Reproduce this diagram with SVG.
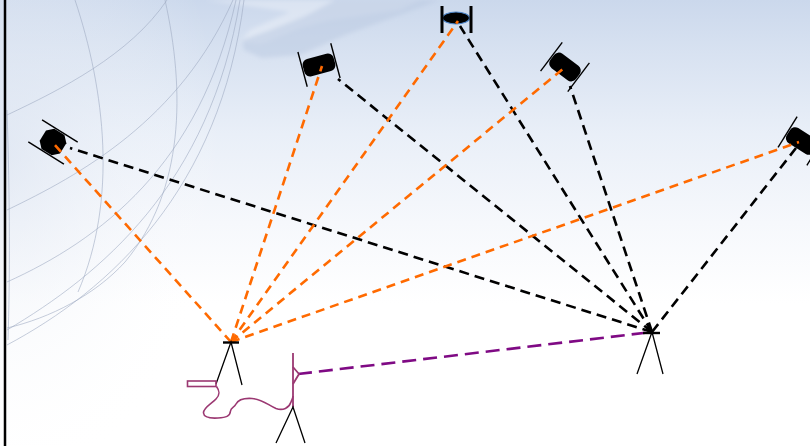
<svg xmlns="http://www.w3.org/2000/svg" width="810" height="446" viewBox="0 0 810 446">
  <defs>
    <linearGradient id="sky" x1="0" y1="0" x2="0" y2="1">
      <stop offset="0" stop-color="#cbd8ec"/>
      <stop offset="0.12" stop-color="#d8e2f1"/>
      <stop offset="0.3" stop-color="#e9eff8"/>
      <stop offset="0.5" stop-color="#f6f8fc"/>
      <stop offset="0.68" stop-color="#ffffff"/>
    </linearGradient>
    <radialGradient id="haze" cx="0" cy="0.35" r="0.75">
      <stop offset="0" stop-color="#dbe3f0" stop-opacity="0.6"/>
      <stop offset="1" stop-color="#ffffff" stop-opacity="0"/>
    </radialGradient>
    <filter id="soft" x="-20%" y="-20%" width="140%" height="140%">
      <feGaussianBlur stdDeviation="2"/>
    </filter>
    <!-- generic satellite: body with two solar-panel edges -->
    <g id="sat">
      <line x1="-17" y1="-18" x2="-17" y2="18" stroke="#000" stroke-width="1.4"/>
      <line x1="17" y1="-18" x2="17" y2="18" stroke="#000" stroke-width="1.4"/>
      <rect x="-16" y="-9" width="32" height="18" rx="6" ry="6" fill="#000"/>
    </g>
  </defs>
  <style>
    .globe { fill: none; stroke: #9fabc3; stroke-width: 0.8; opacity: 0.75; }
    .orange { stroke: #ff6a00; stroke-width: 2.6; stroke-dasharray: 9 6; fill: none; }
    .black { stroke: #000; stroke-width: 2.6; stroke-dasharray: 10 6; fill: none; }
    .purple { stroke: #7f0a84; stroke-width: 2.6; stroke-dasharray: 14 7; fill: none; }
    .tripod { stroke: #000; stroke-width: 1.3; fill: none; }
    .bar { stroke: #000; stroke-width: 2.4; }
    .cable { stroke: #9b3872; stroke-width: 1.6; fill: none; }
  </style>

  <!-- sky background -->
  <rect x="0" y="0" width="810" height="446" fill="url(#sky)"/>
  <rect x="0" y="0" width="300" height="446" fill="url(#haze)"/>

  <!-- faint wing-like cloud near the top -->
  <g filter="url(#soft)">
    <path d="M205,0 L420,0 L400,10 L330,20 L300,28 L262,44 L240,42 L250,30 L290,12 Z" fill="#ffffff" opacity="0.3"/>
    <path d="M242,40 L270,30 L305,16 L335,0 L440,0 L400,15 L345,35 L300,55 L262,58 L244,50 Z" fill="#bccbe2" opacity="0.55"/>
  </g>

  <!-- globe grid -->
  <g id="globe">
    <path class="globe" d="M7,115 C60,90 130,55 167,0"/>
    <path class="globe" d="M7,210 C80,175 180,120 233,0"/>
    <path class="globe" d="M7,282 C100,240 200,165 236,0"/>
    <path class="globe" d="M7,330 C100,275 210,185 240,0"/>
    <path class="globe" d="M7,345 C110,290 220,190 244,0"/>
    <path class="globe" d="M75,0 C105,90 118,200 78,292"/>
    <path class="globe" d="M165,0 C185,90 185,190 125,262 C95,295 50,318 7,328"/>
    <path class="globe" d="M7,110 C10,200 10,280 8,340"/>
  </g>

  <!-- left frame edge -->
  <line x1="5" y1="0" x2="5" y2="446" stroke="#000" stroke-width="2.5"/>

  <!-- satellites -->
  <g id="sat1" transform="translate(53,142) rotate(122)">
    <line x1="-13" y1="-21" x2="-13" y2="21" stroke="#000" stroke-width="1.4"/>
    <line x1="13" y1="-21" x2="13" y2="21" stroke="#000" stroke-width="1.4"/>
    <path d="M-6,-12 L6,-12 L12,-6 L12,6 L6,12 L-6,12 L-12,6 L-12,-6 Z" fill="#000"/>
  </g>
  <g id="sat2" transform="translate(319,65) rotate(-15)">
    <use href="#sat"/>
  </g>
  <g id="sat3">
    <ellipse cx="456" cy="18" rx="13.5" ry="6" fill="#000" stroke="#4f86c9" stroke-width="1.2"/>
    <line x1="442" y1="6" x2="442" y2="33" stroke="#000" stroke-width="3"/>
    <line x1="471" y1="6" x2="471" y2="33" stroke="#000" stroke-width="3"/>
  </g>
  <g id="sat4" transform="translate(565,67) rotate(37)">
    <use href="#sat"/>
  </g>
  <g id="sat5" transform="translate(802,141) rotate(32)">
    <use href="#sat"/>
  </g>

  <!-- connectors -->
  <g id="connectors">
    <!-- links from the right station -->
    <line class="black" x1="652" y1="332" x2="70" y2="148"/>
    <line class="black" x1="652" y1="332" x2="338" y2="79"/>
    <line class="black" x1="652" y1="332" x2="460" y2="26"/>
    <line class="black" x1="652" y1="332" x2="570" y2="86"/>
    <line class="black" x1="652" y1="332" x2="796" y2="148"/>
    <!-- links from the left station -->
    <line class="orange" x1="231" y1="342" x2="53" y2="143"/>
    <line class="orange" x1="231" y1="342" x2="322" y2="66"/>
    <line class="orange" x1="231" y1="342" x2="458" y2="21"/>
    <line class="orange" x1="231" y1="342" x2="564" y2="68"/>
    <line class="orange" x1="231" y1="342" x2="799" y2="142"/>
    <!-- ground link -->
    <line class="purple" x1="298" y1="374" x2="652" y2="332"/>
  </g>

  <!-- ground stations -->
  <g id="station-left">
    <line class="bar" x1="223" y1="342.5" x2="239" y2="342.5"/>
    <polyline class="tripod" points="216,384 231,342 242,385"/>
  </g>
  <g id="station-right">
    <line class="bar" x1="643" y1="333" x2="660" y2="333"/>
    <polyline class="tripod" points="637,374 652,332 663,374"/>
  </g>
  <g id="receiver">
    <line x1="293" y1="353" x2="293" y2="407" stroke="#9b3872" stroke-width="1.8"/>
    <path d="M293,367 L299,374 L293,384" fill="none" stroke="#9b3872" stroke-width="1.8"/>
    <polyline class="tripod" points="276,443 293,407 305,443"/>
    <rect x="187.5" y="381" width="28.5" height="5.5" fill="none" stroke="#9b3872" stroke-width="1.6"/>
    <path class="cable" d="M216.5,386.5 C219,390 221,394 216,399 C211,404 203,408 203.5,413 C204,418 210,418.5 218,418 C226,417.5 230,416.5 230.5,411 C231,407 234,408 236,404 C238,400 244,398 252,398.5 C262,399 268,405 276,408.5 C283,411 289,408 291,402 C292,399 293,398 293,396"/>
  </g>
</svg>
